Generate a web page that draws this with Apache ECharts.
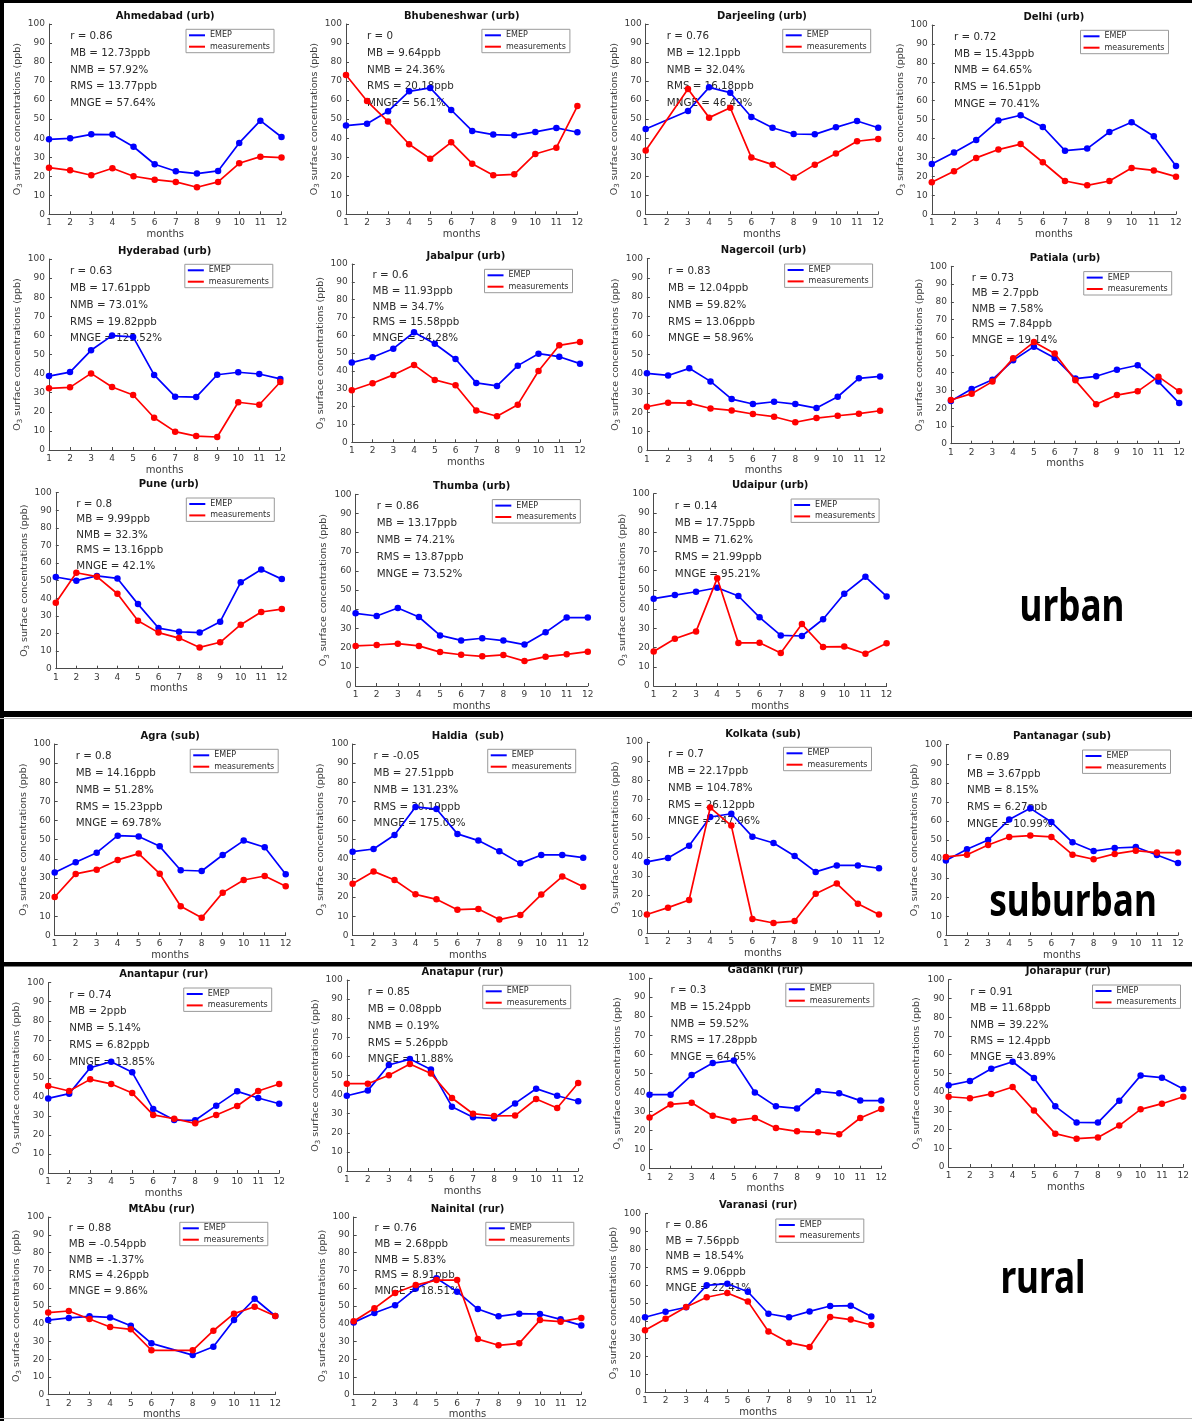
<!DOCTYPE html>
<html>
<head>
<meta charset="utf-8">
<script src="https://cdn.jsdelivr.net/npm/echarts@6/dist/echarts.min.js"></script>
<style>
  html, body { margin: 0; padding: 0; background: #fff; }
  #chart { width: 1192px; height: 1421px; }
</style>
</head>
<body>
<div id="chart"></div>
<script>
// Monthly mean surface O3 (ppb): EMEP model vs. station measurements
const months = [1, 2, 3, 4, 5, 6, 7, 8, 9, 10, 11, 12];
const yTicks = [0, 10, 20, 30, 40, 50, 60, 70, 80, 90, 100];
const statLabels = ['r = ', 'MB = ', 'NMB = ', 'RMS = ', 'MNGE = '];

// ---- urban ----
const emepAhmedabad = [39.4, 39.9, 42.0, 41.9, 35.5, 26.3, 22.6, 21.4, 22.8, 37.5, 49.2, 40.6];
const measAhmedabad = [24.5, 23.1, 20.5, 24.2, 20.0, 18.2, 17.0, 14.2, 17.0, 26.8, 30.3, 29.8];
const statsAhmedabad = ['0.86', '12.73ppb', '57.92%', '13.77ppb', '57.64%'];

const emepBhubeneshwar = [46.6, 47.6, 54.1, 64.6, 66.4, 54.8, 43.8, 41.9, 41.5, 43.3, 45.4, 43.1];
const measBhubeneshwar = [73.2, 59.5, 48.7, 36.8, 29.2, 37.8, 26.6, 20.5, 21.0, 31.7, 35.0, 56.9];
const statsBhubeneshwar = ['0', '9.64ppb', '24.36%', '20.18ppb', '56.1%'];

const emepDarjeeling = [44.8, null, 54.3, 66.7, 63.9, 51.1, 45.5, 42.2, 42.0, 45.7, 49.0, 45.5];
const measDarjeeling = [33.5, null, 65.8, 50.8, 56.0, 29.8, 26.1, 19.4, 26.1, 31.9, 38.4, 39.6];
const statsDarjeeling = ['0.76', '12.1ppb', '32.04%', '16.18ppb', '46.49%'];

const emepDelhi = [26.6, 32.6, 39.3, 49.5, 52.3, 46.1, 33.6, 34.7, 43.5, 48.6, 41.2, 25.5];
const measDelhi = [16.9, 22.7, 29.8, 34.2, 37.1, 27.5, 17.6, 15.3, 17.6, 24.5, 23.2, 19.9];
const statsDelhi = ['0.72', '15.43ppb', '64.65%', '16.51ppb', '70.41%'];

const emepHyderabad = [38.7, 40.8, 52.2, 59.9, 59.2, 39.3, 27.9, 27.7, 39.4, 40.7, 39.8, 37.2];
const measHyderabad = [32.3, 32.8, 40.1, 33.0, 28.8, 16.9, 9.6, 7.3, 6.8, 25.0, 23.7, 35.6];
const statsHyderabad = ['0.63', '17.61ppb', '73.01%', '19.82ppb', '125.52%'];

const emepJabalpur = [44.7, 47.7, 52.5, 61.7, 55.3, 46.7, 33.3, 31.6, 43.0, 49.7, 48.0, 44.1];
const measJabalpur = [29.2, 33.1, 37.8, 43.4, 35.0, 32.0, 17.8, 14.6, 21.1, 40.0, 54.4, 56.3];
const statsJabalpur = ['0.6', '11.93ppb', '34.7%', '15.58ppb', '54.28%'];

const emepNagercoil = [40.3, 39.2, 42.9, 36.1, 26.9, 24.3, 25.5, 24.3, 22.2, 28.1, 37.7, 38.7];
const measNagercoil = [22.9, 25.0, 24.8, 22.0, 21.0, 19.1, 17.7, 14.8, 17.0, 18.2, 19.3, 20.8];
const statsNagercoil = ['0.83', '12.04ppb', '59.82%', '13.06ppb', '58.96%'];

const emepPatiala = [24.1, 30.8, 36.1, 47.0, 54.7, 48.3, 36.7, 38.0, 41.7, 44.2, 35.0, 22.9];
const measPatiala = [24.6, 28.2, 35.0, 48.1, 57.3, 50.8, 35.7, 22.2, 27.4, 29.5, 37.8, 29.5];
const statsPatiala = ['0.73', '2.7ppb', '7.58%', '7.84ppb', '19.14%'];

const emepPune = [52.1, 50.0, 52.7, 51.3, 36.7, 23.1, 21.0, 20.5, 26.7, 49.1, 56.4, 50.9];
const measPune = [37.5, 54.5, 52.3, 42.6, 27.3, 20.5, 17.4, 12.1, 15.0, 25.0, 32.2, 33.9];
const statsPune = ['0.8', '9.99ppb', '32.3%', '13.16ppb', '42.1%'];

const emepThumba = [37.9, 36.5, 40.7, 36.0, 26.4, 23.8, 24.9, 23.7, 21.6, 28.0, 35.7, 35.7];
const measThumba = [20.9, 21.4, 22.1, 20.9, 17.7, 16.3, 15.5, 16.2, 13.0, 15.3, 16.5, 17.9];
const statsThumba = ['0.86', '13.17ppb', '74.21%', '13.87ppb', '73.52%'];

const emepUdaipur = [45.4, 47.3, 49.0, 51.1, 46.8, 35.7, 26.3, 26.0, 34.7, 48.0, 56.8, 46.6];
const measUdaipur = [17.9, 24.6, 28.4, 56.0, 22.4, 22.5, 17.2, 32.2, 20.3, 20.5, 16.8, 22.2];
const statsUdaipur = ['0.14', '17.75ppb', '71.62%', '21.99ppb', '95.21%'];

// ---- suburban ----
const emepAgra = [32.8, 38.2, 43.2, 52.1, 51.7, 46.5, 34.0, 33.6, 42.0, 49.5, 46.0, 31.9];
const measAgra = [20.0, 32.1, 34.3, 39.4, 42.7, 32.2, 15.2, 9.2, 22.3, 28.9, 31.0, 25.6];
const statsAgra = ['0.8', '14.16ppb', '51.28%', '15.23ppb', '69.78%'];

const emepHaldia = [43.7, 45.1, 52.4, 67.1, 66.0, 53.0, 49.5, 43.9, 37.6, 42.0, 42.0, 40.6];
const measHaldia = [27.0, 33.4, 28.9, 21.4, 18.8, 13.4, 13.8, 8.2, 10.6, 21.3, 30.7, 25.4];
const statsHaldia = ['-0.05', '27.51ppb', '131.23%', '30.19ppb', '175.09%'];

const emepKolkata = [37.3, 39.4, 45.8, 60.8, 62.5, 50.5, 47.2, 40.4, 32.1, 35.5, 35.5, 34.0];
const measKolkata = [9.8, 13.4, 17.4, 65.7, 56.3, 7.5, 5.4, 6.4, 20.7, 26.0, 15.5, 9.8];
const statsKolkata = ['0.7', '22.17ppb', '104.78%', '26.12ppb', '247.96%'];

const emepPantanagar = [39.2, 45.1, 50.0, 60.7, 66.6, 59.4, 48.8, 44.2, 45.8, 46.3, 42.1, 37.9];
const measPantanagar = [41.1, 42.3, 47.4, 51.6, 52.3, 51.6, 42.3, 39.9, 42.7, 44.4, 43.4, 43.4];
const statsPantanagar = ['0.89', '3.67ppb', '8.15%', '6.27ppb', '10.99%'];

// ---- rural ----
const emepAnantapur = [39.2, 41.7, 55.3, 58.5, 52.9, 33.6, 27.8, 27.7, 35.4, 42.9, 39.4, 36.4];
const measAnantapur = [45.7, 43.1, 49.2, 46.8, 42.0, 30.5, 28.5, 26.1, 30.5, 35.2, 43.1, 46.8];
const statsAnantapur = ['0.74', '2ppb', '5.14%', '6.82ppb', '13.85%'];

const emepAnatapur = [39.4, 42.1, 55.5, 58.6, 53.1, 33.7, 28.1, 27.6, 35.4, 43.1, 39.4, 36.5];
const measAnatapur = [45.7, 45.7, 50.1, 56.0, 51.0, 38.2, 30.0, 28.8, 29.0, 37.7, 33.0, 46.1];
const statsAnatapur = ['0.85', '0.08ppb', '0.19%', '5.26ppb', '11.88%'];

const emepGadanki = [38.8, 38.8, 49.1, 55.4, 56.8, 40.0, 32.7, 31.6, 40.6, 39.5, 35.7, 35.7];
const measGadanki = [26.9, 33.7, 34.6, 27.8, 25.2, 26.6, 21.3, 19.6, 19.1, 18.0, 26.6, 31.3];
const statsGadanki = ['0.3', '15.24ppb', '59.52%', '17.28ppb', '64.65%'];

const emepJoharapur = [43.6, 45.9, 52.5, 56.2, 47.5, 32.4, 23.8, 23.7, 35.4, 48.8, 47.7, 41.6];
const measJoharapur = [37.5, 36.7, 39.0, 42.7, 30.1, 17.8, 15.1, 15.8, 22.1, 30.8, 33.8, 37.5];
const statsJoharapur = ['0.91', '11.68ppb', '39.22%', '12.4ppb', '43.89%'];

const emepMtAbu = [42.0, 43.2, 44.1, 43.5, 38.8, 28.9, null, 22.3, 27.0, 42.0, 54.0, 44.3];
const measMtAbu = [46.2, 47.1, 42.6, 38.1, 36.8, 25.0, null, 25.0, 36.0, 45.6, 49.5, 44.3];
const statsMtAbu = ['0.88', '-0.54ppb', '-1.37%', '4.26ppb', '9.86%'];

const emepNainital = [40.7, 46.0, 50.3, 59.7, 65.5, 58.0, 48.2, 44.1, 45.6, 45.4, 42.4, 39.0];
const measNainital = [41.3, 48.6, 57.2, 61.7, 64.5, 64.5, 31.3, 27.8, 28.9, 42.0, 41.1, 43.2];
const statsNainital = ['0.76', '2.68ppb', '5.83%', '8.91ppb', '18.51%'];

const emepVaranasi = [42.0, 45.1, 47.6, 59.9, 60.8, 56.3, 44.0, 42.0, 45.3, 48.3, 48.5, 42.4];
const measVaranasi = [34.7, 41.2, 47.8, 53.2, 55.6, 50.9, 34.1, 27.8, 25.4, 42.2, 40.7, 37.7];
const statsVaranasi = ['0.86', '7.56ppb', '18.54%', '9.06ppb', '22.41%'];

const stations = [
  ['Ahmedabad (urb)', emepAhmedabad, measAhmedabad, statsAhmedabad],
  ['Bhubeneshwar (urb)', emepBhubeneshwar, measBhubeneshwar, statsBhubeneshwar],
  ['Darjeeling (urb)', emepDarjeeling, measDarjeeling, statsDarjeeling],
  ['Delhi (urb)', emepDelhi, measDelhi, statsDelhi],
  ['Hyderabad (urb)', emepHyderabad, measHyderabad, statsHyderabad],
  ['Jabalpur (urb)', emepJabalpur, measJabalpur, statsJabalpur],
  ['Nagercoil (urb)', emepNagercoil, measNagercoil, statsNagercoil],
  ['Patiala (urb)', emepPatiala, measPatiala, statsPatiala],
  ['Pune (urb)', emepPune, measPune, statsPune],
  ['Thumba (urb)', emepThumba, measThumba, statsThumba],
  ['Udaipur (urb)', emepUdaipur, measUdaipur, statsUdaipur],
  ['Agra (sub)', emepAgra, measAgra, statsAgra],
  ['Haldia  (sub)', emepHaldia, measHaldia, statsHaldia],
  ['Kolkata (sub)', emepKolkata, measKolkata, statsKolkata],
  ['Pantanagar (sub)', emepPantanagar, measPantanagar, statsPantanagar],
  ['Anantapur (rur)', emepAnantapur, measAnantapur, statsAnantapur],
  ['Anatapur (rur)', emepAnatapur, measAnatapur, statsAnatapur],
  ['Gadanki (rur)', emepGadanki, measGadanki, statsGadanki],
  ['Joharapur (rur)', emepJoharapur, measJoharapur, statsJoharapur],
  ['MtAbu (rur)', emepMtAbu, measMtAbu, statsMtAbu],
  ['Nainital (rur)', emepNainital, measNainital, statsNainital],
  ['Varanasi (rur)', emepVaranasi, measVaranasi, statsVaranasi]
];

// Plot-area boxes in page pixels: [x of month 1, x of month 12, y of 100, y of 0]
const boxes = [
  [49, 281.5, 24, 214.3], [346, 577.4, 24, 214.3], [645.7, 878.2, 24, 214.3], [931.8, 1176, 25, 214.3],
  [49, 280.3, 259, 450], [351.8, 580, 264, 442.3], [646.9, 880.1, 258.7, 450.7], [950.9, 1179.2, 266.3, 443.7],
  [55.8, 281.8, 492.7, 668.7], [355.6, 587.8, 494.3, 686], [653.7, 886.6, 493.7, 686],
  [54.7, 285.7, 744, 935.3], [352.6, 583.2, 744, 935.3], [646.9, 879, 742, 933.3], [945.9, 1178, 744.7, 935.3],
  [48.2, 279.2, 982.7, 1173], [346.8, 578.2, 980, 1171], [649.5, 881.3, 978, 1168.7], [948.6, 1188, 979.7, 1167],
  [48.2, 275.3, 1217, 1394.7], [353.7, 581.3, 1217, 1394.7], [645, 871.3, 1213.7, 1392.3]
];

const W = 1192;
const FONT = 'DejaVu Sans';
const AX = '#4a4a4a';
const TXT = '#2b2b2b';
const BLUE = '#0000ff';
const RED = '#ff0000';

const grid = [], xAxis = [], yAxis = [], series = [], legend = [], graphic = [];

stations.forEach(([title, emep, meas, stats], i) => {
  const [x1, x12, yTop, yBot] = boxes[i];
  const w = x12 - x1, h = yBot - yTop;
  grid.push({ left: x1, top: yTop, width: w, height: h, containLabel: false });

  xAxis.push({
    gridIndex: i, type: 'value', min: 1, max: 12, interval: 1,
    axisLine: { show: true, onZero: false, lineStyle: { color: AX, width: 1 } },
    axisTick: { show: true, inside: true, length: 3, lineStyle: { color: AX } },
    axisLabel: { fontSize: 9, color: '#3a3a3a', margin: 4, fontFamily: FONT },
    splitLine: { show: false },
    name: 'months', nameLocation: 'middle', nameGap: 15,
    nameTextStyle: { fontSize: 10, color: '#3a3a3a', fontFamily: FONT }
  });

  yAxis.push({
    gridIndex: i, type: 'value', min: yTicks[0], max: yTicks[yTicks.length - 1], interval: 10,
    axisLine: { show: true, onZero: false, lineStyle: { color: AX, width: 1 } },
    axisTick: { show: true, inside: true, length: 3, lineStyle: { color: AX } },
    axisLabel: { fontSize: 9, color: '#3a3a3a', margin: 4, fontFamily: FONT },
    splitLine: { show: false },
    name: '{o|O}{s|3}{t| surface concentrations (ppb)}',
    nameLocation: 'middle', nameGap: 25,
    nameTextStyle: {
      color: '#3a3a3a', fontFamily: FONT, fontSize: 9.5,
      rich: {
        o: { fontSize: 9.5, fontFamily: FONT, color: '#3a3a3a' },
        s: { fontSize: 7, fontFamily: FONT, color: '#3a3a3a', padding: [6, 0, 0, 0] },
        t: { fontSize: 9.5, fontFamily: FONT, color: '#3a3a3a' }
      }
    }
  });

  const toPairs = arr => months.map((m, k) => [m, arr[k]]);
  series.push({
    type: 'line', name: 'EMEP', xAxisIndex: i, yAxisIndex: i,
    data: toPairs(emep), connectNulls: true,
    symbol: 'circle', symbolSize: 6.5, showAllSymbol: true,
    lineStyle: { color: BLUE, width: 1.7 }, itemStyle: { color: BLUE },
    animation: false, z: 2
  });
  series.push({
    type: 'line', name: 'measurements', xAxisIndex: i, yAxisIndex: i,
    data: toPairs(meas), connectNulls: true,
    symbol: 'circle', symbolSize: 6.5, showAllSymbol: true,
    lineStyle: { color: RED, width: 1.7 }, itemStyle: { color: RED },
    animation: false, z: 3
  });

  legend.push({
    data: ['EMEP', 'measurements'], orient: 'vertical',
    right: W - (x12 - 7.5), top: yTop + 5.3,
    icon: 'rect', itemWidth: 16, itemHeight: 2, itemGap: 2.4,
    padding: [1.5, 4, 1.5, 3],
    borderColor: '#9a9a9a', borderWidth: 1, backgroundColor: '#fff',
    selectedMode: false,
    textStyle: { fontSize: 8, lineHeight: 9, color: TXT, fontFamily: FONT }
  });

  // panel title
  graphic.push({
    type: 'text', x: x1 + w / 2, y: yTop - 8, silent: true,
    style: { text: title, font: 'bold 10px "' + FONT + '"', fill: '#111', align: 'center', verticalAlign: 'middle' }
  });

  // statistics block, anchored at month 2 near the top of the axes
  stats.forEach((s, k) => {
    const v = 93.5 - 8.8 * k;
    graphic.push({
      type: 'text', x: x1 + w / 11, y: yTop + (100 - v) / 100 * h, silent: true,
      style: { text: statLabels[k] + s, font: '10.3px "' + FONT + '"', fill: TXT, align: 'left', verticalAlign: 'middle' }
    });
  });
});

// section labels
[['urban', 1072, 608], ['suburban', 1073, 903], ['rural', 1043, 1280]].forEach(([t, x, y]) => {
  graphic.push({
    type: 'text', x, y, scaleX: 0.8, silent: true,
    style: { text: t, font: 'bold 44px "Noto Sans"', fill: '#000', align: 'center', verticalAlign: 'middle' }
  });
});

// frame and section separators
[[0, 0, W, 3], [0, 0, 4, 1421], [0, 711, W, 6], [0, 962, W, 4.5]].forEach(([x, y, w, h]) => {
  graphic.push({ type: 'rect', shape: { x, y, width: w, height: h }, style: { fill: '#000' }, silent: true, z: 10 });
});
[[0, 718, W, 1], [0, 1418, W, 1]].forEach(([x, y, w, h]) => {
  graphic.push({ type: 'rect', shape: { x, y, width: w, height: h }, style: { fill: '#b8b8b8' }, silent: true, z: 10 });
});

const chart = echarts.init(document.getElementById('chart'), null, { renderer: 'canvas' });
chart.setOption({
  animation: false,
  backgroundColor: '#fff',
  textStyle: { fontFamily: FONT },
  grid, xAxis, yAxis, series, legend, graphic
});
</script>
</body>
</html>
